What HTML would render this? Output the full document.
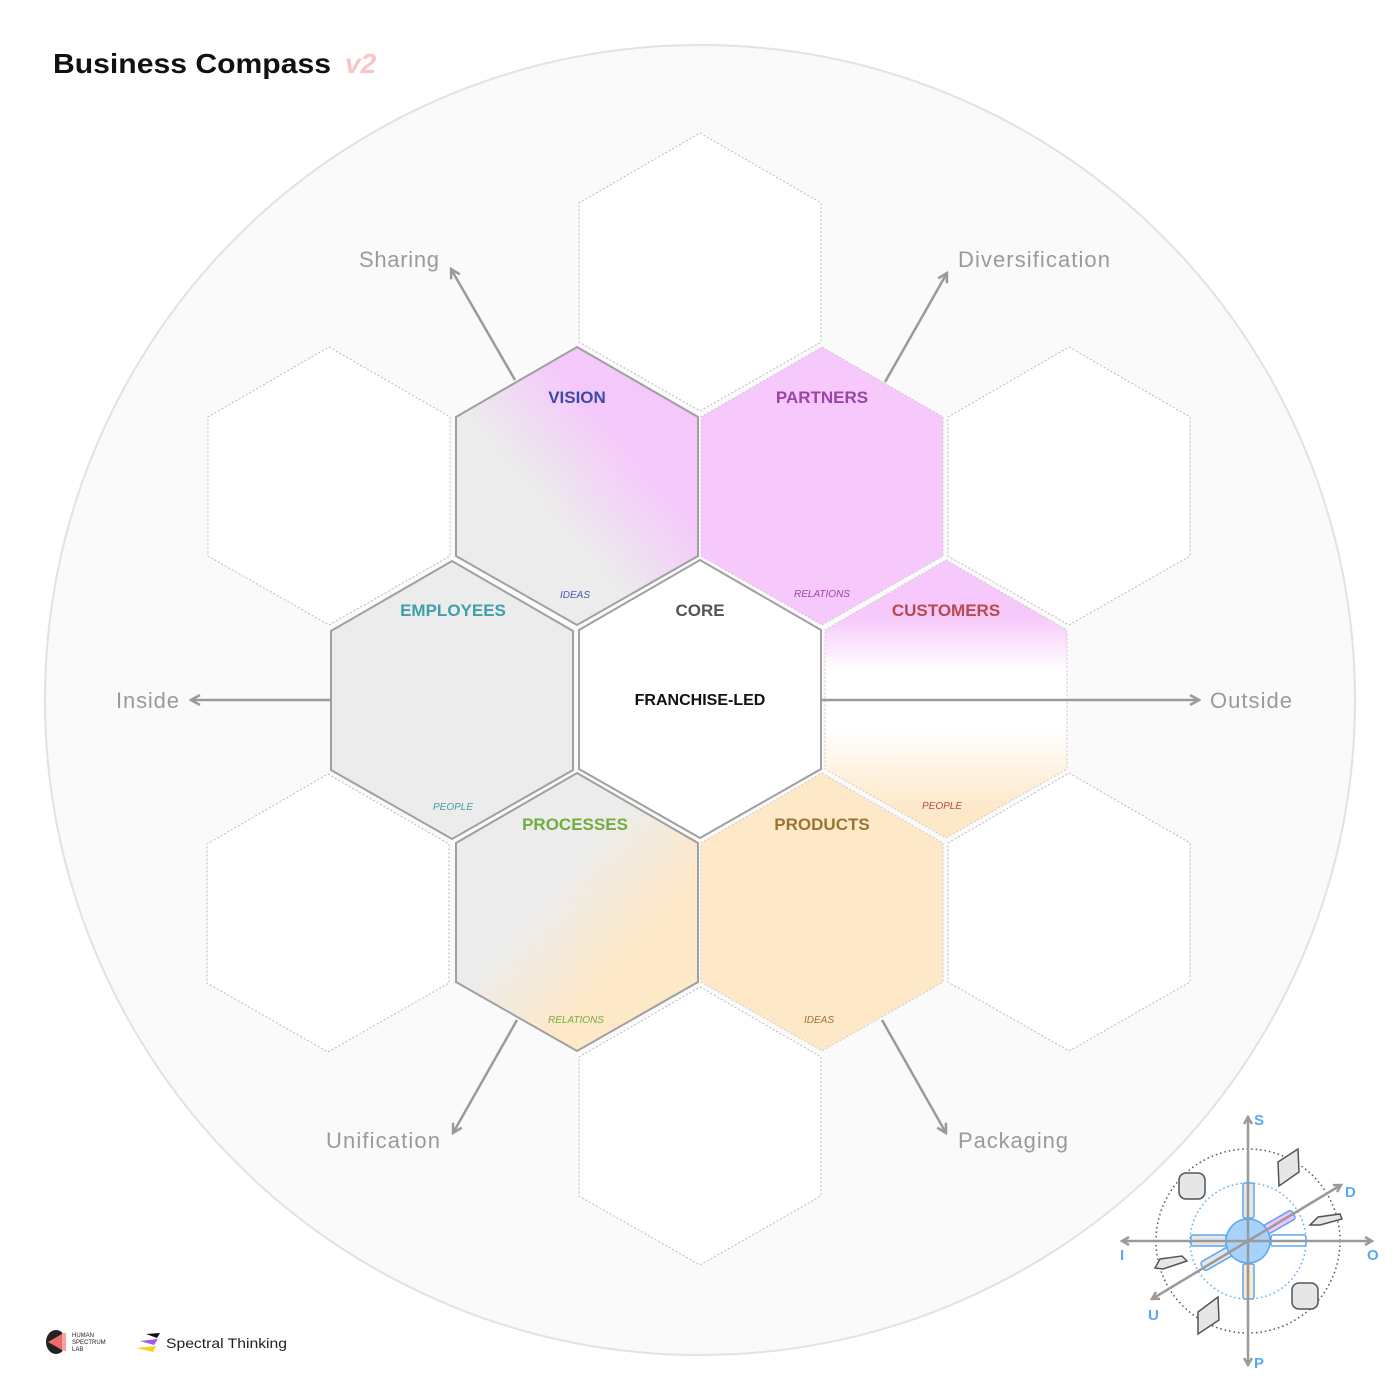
<!DOCTYPE html>
<html><head><meta charset="utf-8"><style>
html,body{margin:0;padding:0;background:#fff;}
svg{display:block;font-family:"Liberation Sans",sans-serif;}
</style></head><body>
<svg width="1400" height="1400" viewBox="0 0 1400 1400" xmlns="http://www.w3.org/2000/svg">
<defs>
<linearGradient id="gv" x1="0" y1="1" x2="1" y2="0"><stop offset="0.4" stop-color="#ececec"/><stop offset="0.68" stop-color="#f5c8fb"/></linearGradient>
<linearGradient id="gp" x1="0" y1="0" x2="1" y2="1"><stop offset="0.4" stop-color="#ececec"/><stop offset="0.68" stop-color="#fde8c8"/></linearGradient>
<linearGradient id="gc" x1="0" y1="0" x2="0" y2="1"><stop offset="0.2" stop-color="#f6c8fb"/><stop offset="0.4" stop-color="#ffffff"/><stop offset="0.6" stop-color="#ffffff"/><stop offset="0.9" stop-color="#fde8c8"/></linearGradient>
<marker id="ah" markerWidth="12" markerHeight="12" refX="10" refY="6" orient="auto" markerUnits="userSpaceOnUse"><path d="M1,1 L10,6 L1,11" fill="none" stroke="#9a9a9a" stroke-width="2.5"/></marker>
<marker id="ah2" markerWidth="10" markerHeight="10" refX="8" refY="5" orient="auto" markerUnits="userSpaceOnUse"><path d="M1,1 L8,5 L1,9" fill="none" stroke="#9a9a9a" stroke-width="2.5"/></marker>
</defs>
<circle cx="700" cy="700" r="655" fill="#fafafa" stroke="#e2e2e2" stroke-width="2"/>
<text x="53" y="73" font-size="28" font-weight="bold" fill="#111" textLength="278" lengthAdjust="spacingAndGlyphs">Business Compass</text>
<text x="345" y="73" font-size="28" font-weight="bold" font-style="italic" fill="#f9c5c5">v2</text>
<g fill="#fff" stroke="#bbb" stroke-width="1" stroke-dasharray="2,2">
<polygon points="700,133 821,203 821,342 700,411 579,342 579,203"/>
<polygon points="329,347 450,417 450,556 329,625 208,556 208,417"/>
<polygon points="1069,347 1190,417 1190,556 1069,625 948,556 948,417"/>
<polygon points="328,774 449,844 449,983 328,1052 207,983 207,844"/>
<polygon points="1069,773 1190,843 1190,982 1069,1051 948,982 948,843"/>
<polygon points="700,987 821,1057 821,1196 700,1265 579,1196 579,1057"/>
</g>
<g stroke="#9a9a9a" stroke-width="2.5" fill="none">
<line x1="515" y1="380" x2="451" y2="269" marker-end="url(#ah)"/>
<line x1="885" y1="382" x2="947" y2="273" marker-end="url(#ah)"/>
<line x1="330" y1="700" x2="191" y2="700" marker-end="url(#ah)"/>
<line x1="517" y1="1020" x2="453" y2="1133" marker-end="url(#ah)"/>
<line x1="882" y1="1020" x2="946" y2="1133" marker-end="url(#ah)"/>
</g>
<polygon points="577,347 698,417 698,556 577,625 456,556 456,417" fill="url(#gv)" stroke="#a0a0a0" stroke-width="2"/>
<polygon points="822,347 943,417 943,556 822,625 701,556 701,417" fill="#f6c8fb" stroke="#ccc" stroke-width="1" stroke-dasharray="2,2"/>
<polygon points="452,561 573,631 573,770 452,839 331,770 331,631" fill="#ececec" stroke="#a0a0a0" stroke-width="2"/>
<polygon points="946,560 1067,630 1067,769 946,838 825,769 825,630" fill="url(#gc)" stroke="#ccc" stroke-width="1" stroke-dasharray="2,2"/>
<polygon points="577,773 698,843 698,982 577,1051 456,982 456,843" fill="url(#gp)" stroke="#a0a0a0" stroke-width="2"/>
<polygon points="822,773 943,843 943,982 822,1051 701,982 701,843" fill="#fde8c8" stroke="#ccc" stroke-width="1" stroke-dasharray="2,2"/>
<polygon points="700,560 821,630 821,769 700,838 579,769 579,630" fill="#fff" stroke="#a0a0a0" stroke-width="2"/>
<line x1="822" y1="700" x2="1199" y2="700" stroke="#9a9a9a" stroke-width="2.5" marker-end="url(#ah)"/>
<g font-size="22" fill="#9a9a9a" lengthAdjust="spacingAndGlyphs">
<text x="359" y="267" textLength="80">Sharing</text>
<text x="958" y="267" textLength="152">Diversification</text>
<text x="116" y="708" textLength="63">Inside</text>
<text x="1210" y="708" textLength="82">Outside</text>
<text x="326" y="1148" textLength="114">Unification</text>
<text x="958" y="1148" textLength="110">Packaging</text>
</g>
<g font-size="17" font-weight="bold" text-anchor="middle">
<text x="577" y="403" fill="#3d4aa8">VISION</text>
<text x="822" y="403" fill="#9b45a8">PARTNERS</text>
<text x="453" y="616" fill="#3fa0a8">EMPLOYEES</text>
<text x="700" y="616" fill="#555">CORE</text>
<text x="946" y="616" fill="#b94a4a">CUSTOMERS</text>
<text x="575" y="830" fill="#72ad3f">PROCESSES</text>
<text x="822" y="830" fill="#9a7434">PRODUCTS</text>
<text x="700" y="705" fill="#111" font-size="16">FRANCHISE-LED</text>
</g>
<g font-size="10" font-style="italic" text-anchor="middle">
<text x="575" y="598" fill="#4a55b0">IDEAS</text>
<text x="822" y="597" fill="#9b45a8">RELATIONS</text>
<text x="453" y="810" fill="#3fa0a8">PEOPLE</text>
<text x="942" y="809" fill="#b94a4a">PEOPLE</text>
<text x="576" y="1023" fill="#72ad3f">RELATIONS</text>
<text x="819" y="1023" fill="#9a7434">IDEAS</text>
</g>
<g>
<circle cx="1248" cy="1241" r="92" fill="none" stroke="#555" stroke-width="1.5" stroke-dasharray="1.5,3"/>
<circle cx="1248" cy="1241" r="58" fill="none" stroke="#5aa8f5" stroke-width="1.5" stroke-dasharray="1.5,3"/>
<g fill="#e6e6e6" stroke="#555" stroke-width="1.5">
<rect x="1179" y="1173" width="26" height="26" rx="7"/>
<rect x="1292" y="1283" width="26" height="26" rx="7"/>
<polygon points="1278,1162 1298,1149 1299,1172 1279,1186"/>
<polygon points="1198,1312 1218,1297 1219,1320 1198,1334"/>
<polygon points="1318,1217 1340,1214 1342,1219 1320,1225 1310,1225"/>
<polygon points="1160,1259 1182,1256 1187,1261 1163,1269 1155,1268"/>
</g>
<g stroke="#5aa8f5" stroke-width="1.5">
<rect x="1243" y="1183" width="11" height="35" rx="2" fill="#e6e6e6"/>
<rect x="1243" y="1264" width="11" height="35" rx="2" fill="#fde8c8"/>
<rect x="1191" y="1235" width="35" height="11" rx="2" fill="#e6e6e6"/>
<rect x="1271" y="1235" width="35" height="11" rx="2" fill="#fff"/>
<rect x="1261" y="1218" width="35" height="10" rx="3" fill="#f6c0fb" transform="rotate(-30 1278 1223)"/>
<rect x="1200" y="1253" width="35" height="10" rx="3" fill="#e6e6e6" transform="rotate(-30 1218 1258)"/>
<circle cx="1248" cy="1241" r="22" fill="#a9d2fa"/>
</g>
<g stroke="#9a9a9a" stroke-width="2.5" fill="none">
<line x1="1248" y1="1241" x2="1248" y2="1117" marker-end="url(#ah2)"/>
<line x1="1248" y1="1241" x2="1248" y2="1365" marker-end="url(#ah2)"/>
<line x1="1248" y1="1241" x2="1122" y2="1241" marker-end="url(#ah2)"/>
<line x1="1248" y1="1241" x2="1372" y2="1241" marker-end="url(#ah2)"/>
<line x1="1248" y1="1241" x2="1341" y2="1185" marker-end="url(#ah2)"/>
<line x1="1248" y1="1241" x2="1152" y2="1299" marker-end="url(#ah2)"/>
</g>
<g font-size="15" font-weight="bold" fill="#5aa8f5">
<text x="1254" y="1125">S</text>
<text x="1345" y="1197">D</text>
<text x="1120" y="1260">I</text>
<text x="1367" y="1260">O</text>
<text x="1148" y="1320">U</text>
<text x="1254" y="1368">P</text>
</g>
</g>
<g>
<ellipse cx="56" cy="1342" rx="10" ry="12" fill="#222"/>
<polygon points="48,1342 62,1334 62,1350" fill="#ef6b6b"/>
<rect x="62" y="1333" width="4" height="18" fill="#f7a3a3"/>
<text x="72" y="1337" font-size="6" fill="#222">HUMAN</text>
<text x="72" y="1344" font-size="6" fill="#222">SPECTRUM</text>
<text x="72" y="1351" font-size="6" fill="#222">LAB</text>
<polygon points="146,1334 160,1333 157,1338" fill="#111"/>
<polygon points="140,1341 158,1339 154,1345" fill="#9a5cf0"/>
<polygon points="136,1348 156,1346 153,1352" fill="#f6d12a"/>
<text x="166" y="1348" font-size="14" fill="#222" textLength="121" lengthAdjust="spacingAndGlyphs">Spectral Thinking</text>
</g>
</svg>
</body></html>
